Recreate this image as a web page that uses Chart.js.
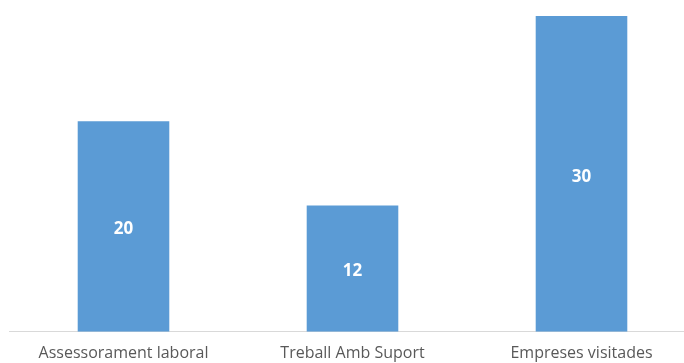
<!DOCTYPE html>
<html>
<head>
<meta charset="utf-8">
<script src="https://cdn.jsdelivr.net/npm/chart.js@4"></script>
<style>
  html, body { margin: 0; padding: 0; background: #fff; overflow: hidden; }
  #wrap { width: 696px; height: 363px; }
</style>
</head>
<body>
<div id="wrap"><canvas id="grafic"></canvas></div>
<script>
// dades del gràfic
const categories = ["Assessorament laboral", "Treball Amb Suport", "Empreses visitades"];
const valors = [20, 12, 30];

// etiquetes blanques al mig de cada barra
const etiquetesValor = {
    id: "etiquetesValor",
    afterDatasetsDraw(chart) {
        const ctx = chart.ctx;
        const meta = chart.getDatasetMeta(0);
        ctx.save();
        ctx.fillStyle = "#ffffff";
        ctx.font = "bold 17px 'Open Sans', sans-serif";
        ctx.textAlign = "center";
        ctx.textBaseline = "middle";
        meta.data.forEach((bar, i) => {
            const mig = (bar.y + bar.base) / 2;
            ctx.fillText(valors[i], bar.x, mig + 3);
        });
        ctx.restore();
    },
};

new Chart(document.getElementById("grafic"), {
    type: "bar",
    data: {
        labels: categories,
        datasets: [
            {
                data: valors,
                backgroundColor: "#5b9bd5",
                barPercentage: 0.4,
                categoryPercentage: 1,
            },
        ],
    },
    options: {
        responsive: true,
        maintainAspectRatio: false,
        animation: false,
        layout: {
            padding: { top: 16, left: 9, right: 0, bottom: -12 },
        },
        plugins: {
            legend: { display: false },
            tooltip: { enabled: false },
        },
        scales: {
            x: {
                grid: { display: false, drawTicks: false },
                border: { color: "#d9d9d9", width: 1 },
                ticks: {
                    color: "#595959",
                    font: { family: "'Open Sans', sans-serif", size: 16 },
                    padding: 12,
                    maxRotation: 0,
                    minRotation: 0,
                },
            },
            y: {
                display: false,
                min: 0,
                max: 30,
            },
        },
    },
    plugins: [etiquetesValor],
});
</script>
</body>
</html>
